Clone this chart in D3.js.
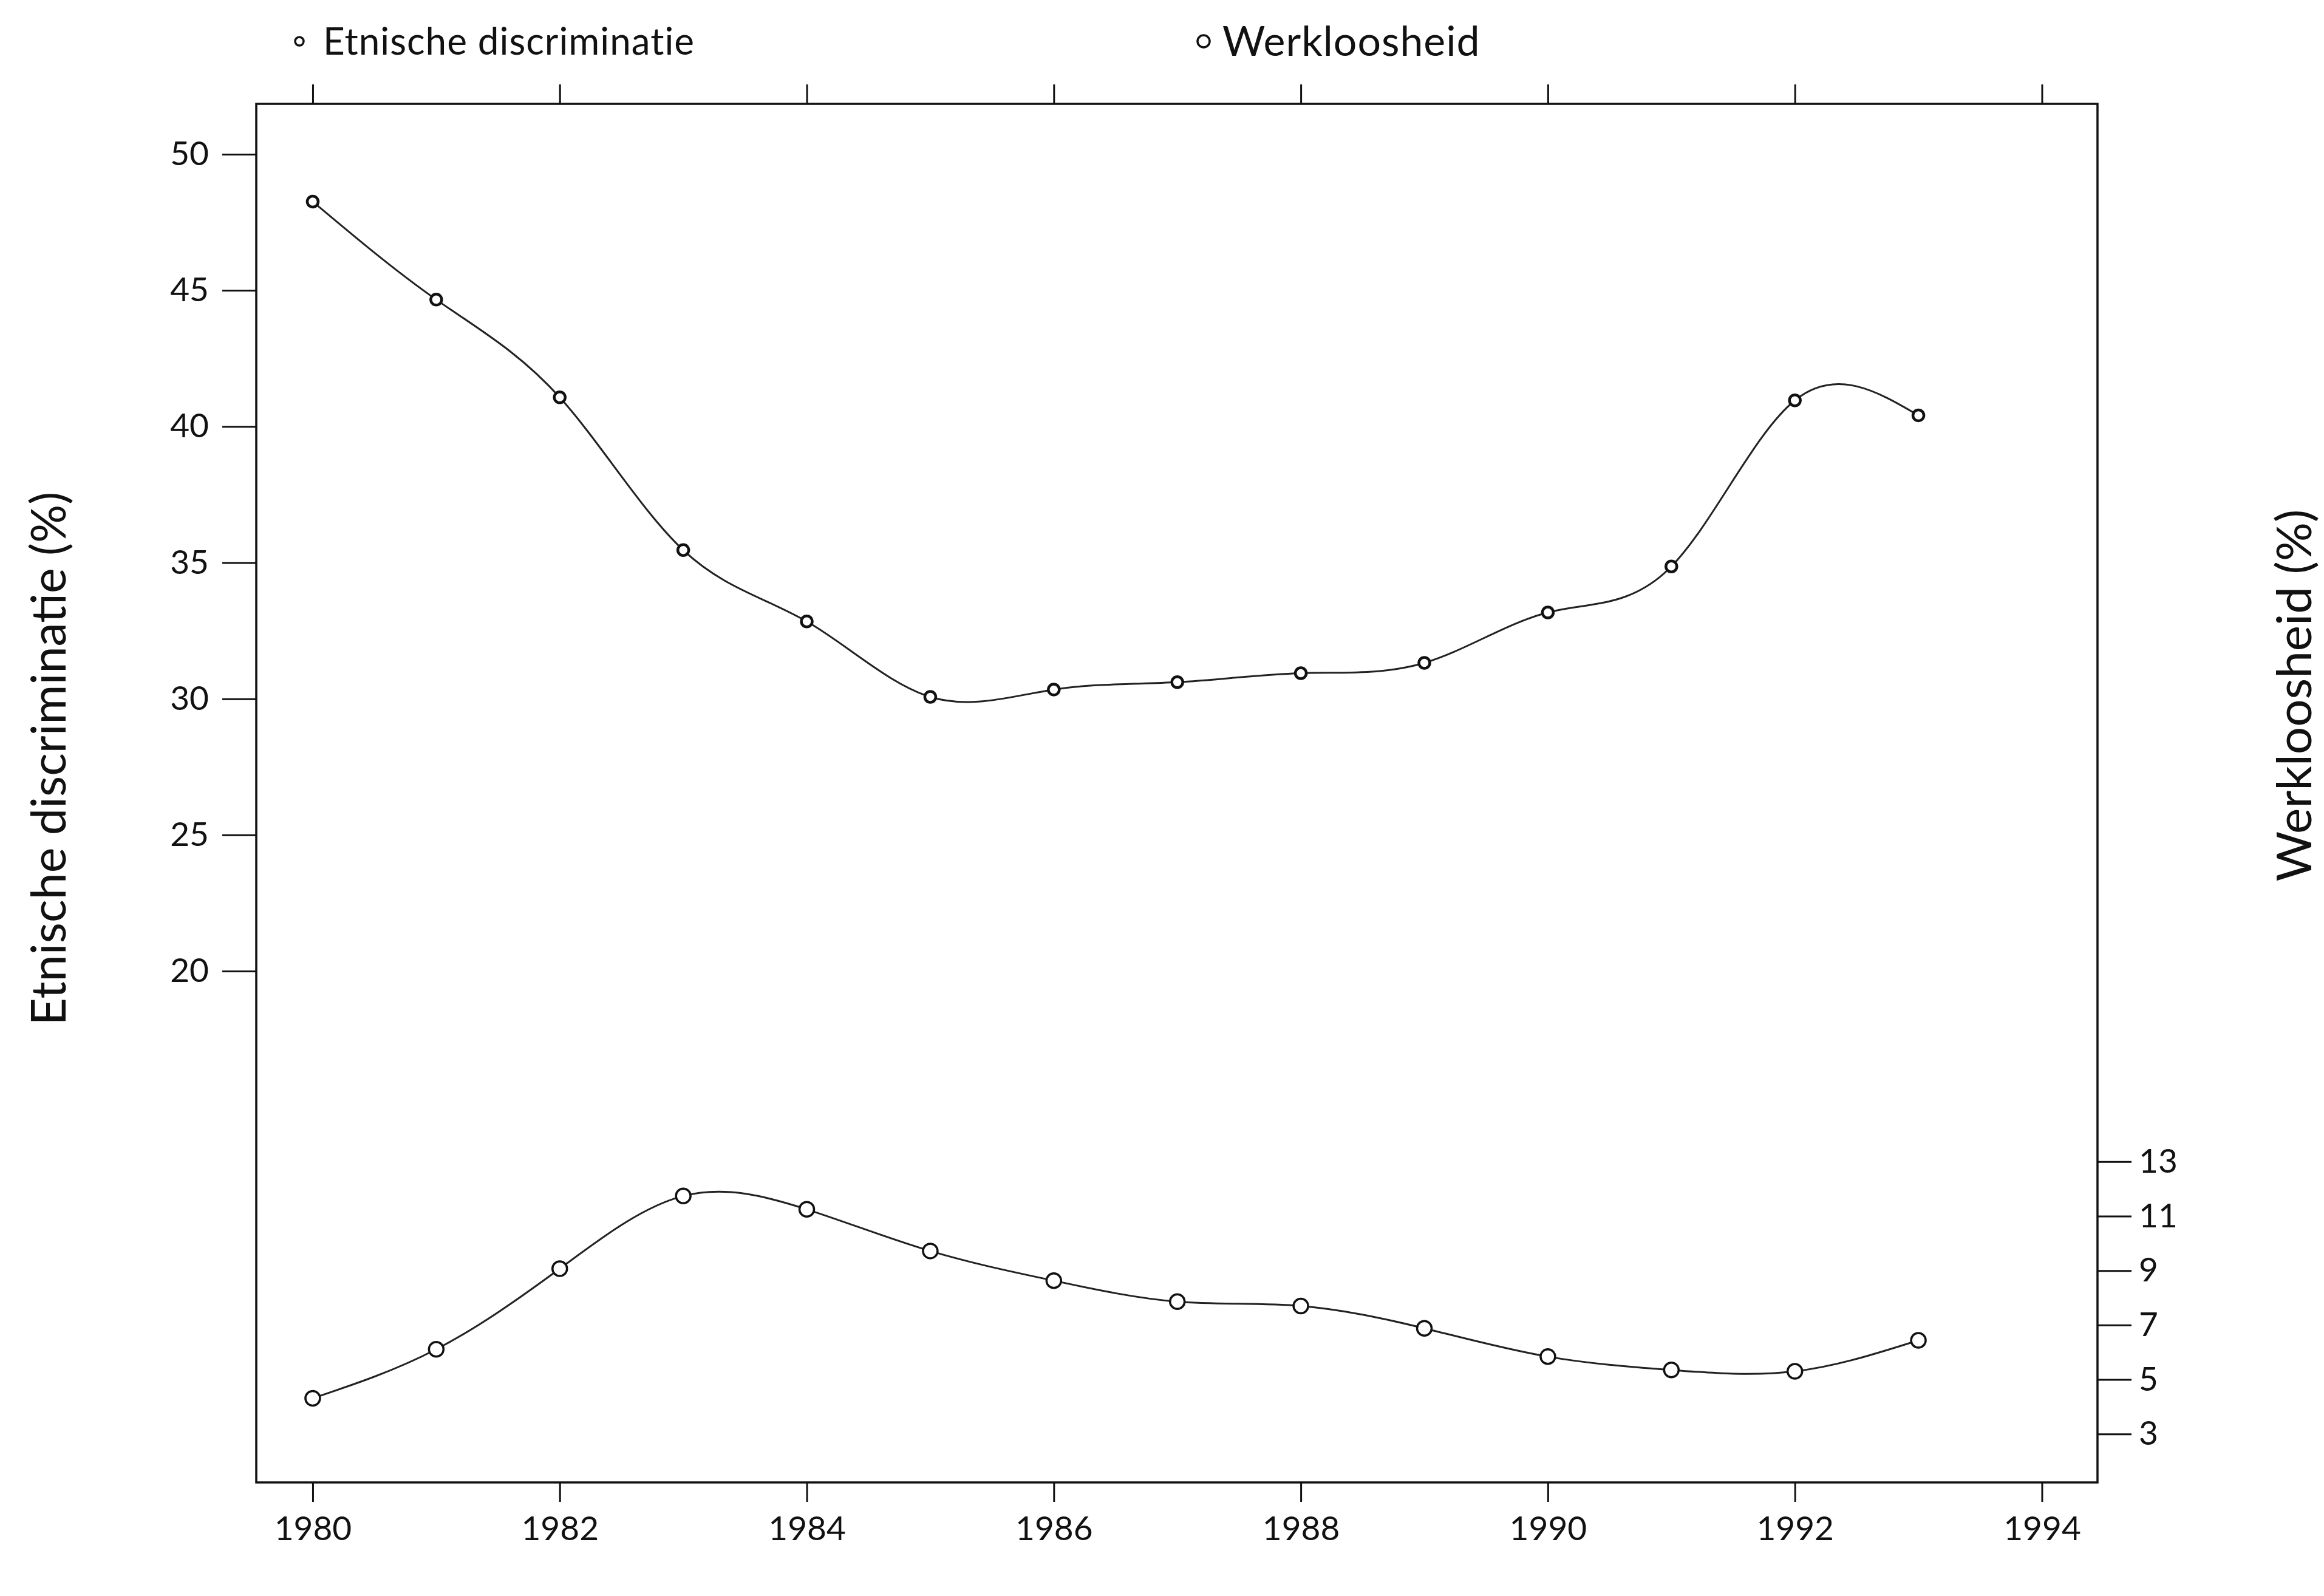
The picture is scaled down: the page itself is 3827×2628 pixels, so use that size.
<!DOCTYPE html>
<html>
<head>
<meta charset="utf-8">
<script src="https://cdn.jsdelivr.net/npm/d3@7"></script>
<style>
  body { margin: 0; background: #fff; }
  svg text { font-family: Lato, "Open Sans", sans-serif; fill: #111; }
</style>
</head>
<body>
<div id="chart"></div>
<script>
// Data
const years = [1980, 1981, 1982, 1983, 1984, 1985, 1986, 1987, 1988, 1989, 1990, 1991, 1992, 1993];
const discriminatie = [48.26, 44.66, 41.07, 35.46, 32.84, 30.07, 30.34, 30.61, 30.94, 31.32, 33.17, 34.86, 40.96, 40.41];
const werkloosheid = [4.31, 6.11, 9.07, 11.74, 11.25, 9.72, 8.63, 7.86, 7.70, 6.88, 5.84, 5.35, 5.30, 6.44];
const xTicks = [1980, 1982, 1984, 1986, 1988, 1990, 1992, 1994];
const leftTicks = [20, 25, 30, 35, 40, 45, 50];
const rightTicks = [3, 5, 7, 9, 11, 13];
const seriesNames = ["Etnische discriminatie", "Werkloosheid"];

// Dimensions
const W = 3827, H = 2628;
const margin = { top: 171, right: 373, bottom: 187, left: 422 };
const width = W - margin.left - margin.right;
const height = H - margin.top - margin.bottom;

const svg = d3.select("#chart")
    .append("svg")
    .attr("width", W)
    .attr("height", H);

const g = svg.append("g")
    .attr("transform", `translate(${margin.left},${margin.top})`);

// Scales (both y axes share the same scale, just different ticks)
const x = d3.scaleLinear()
    .domain([1979.543, 1994.45])
    .range([0, width]);

const y = d3.scaleLinear()
    .domain([1.22, 51.85])
    .range([height, 0]);

const tickFont = 55;

// Bottom axis
g.append("g")
    .attr("transform", `translate(0,${height})`)
    .call(d3.axisBottom(x).tickValues(xTicks).tickFormat(d3.format("d")).tickSize(32).tickPadding(24));

// Top axis (ticks only)
g.append("g")
    .call(d3.axisTop(x).tickValues(xTicks).tickFormat("").tickSize(32));

// Left axis
g.append("g")
    .call(d3.axisLeft(y).tickValues(leftTicks).tickSize(56).tickPadding(22));

// Right axis
g.append("g")
    .attr("transform", `translate(${width},0)`)
    .call(d3.axisRight(y).tickValues(rightTicks).tickSize(56).tickPadding(12));

g.selectAll(".domain").remove();
g.selectAll(".tick line").attr("stroke", "#111").attr("stroke-width", 3);
g.selectAll(".tick text").style("font-size", tickFont + "px").attr("fill", "#111");

// Frame
g.append("rect")
    .attr("width", width)
    .attr("height", height)
    .attr("fill", "none")
    .attr("stroke", "#111")
    .attr("stroke-width", 3.5);

// Lines
const line = (vals) => d3.line()
    .x((d, i) => x(years[i]))
    .y(d => y(d))
    .curve(d3.curveNatural)(vals);

g.append("path")
    .attr("d", line(discriminatie))
    .attr("fill", "none")
    .attr("stroke", "#222")
    .attr("stroke-width", 3);

g.append("path")
    .attr("d", line(werkloosheid))
    .attr("fill", "none")
    .attr("stroke", "#222")
    .attr("stroke-width", 3);

// Markers
g.selectAll(".pt-ed")
    .data(discriminatie)
    .enter()
    .append("circle")
    .attr("class", "pt-ed")
    .attr("cx", (d, i) => x(years[i]))
    .attr("cy", d => y(d))
    .attr("r", 9)
    .attr("fill", "#fff")
    .attr("stroke", "#111")
    .attr("stroke-width", 4.5);

g.selectAll(".pt-wk")
    .data(werkloosheid)
    .enter()
    .append("circle")
    .attr("class", "pt-wk")
    .attr("cx", (d, i) => x(years[i]))
    .attr("cy", d => y(d))
    .attr("r", 12)
    .attr("fill", "#fff")
    .attr("stroke", "#111")
    .attr("stroke-width", 3.5);

// Legend
const legendItems = [
    { name: seriesNames[0], cx: 493, tx: 532, r: 7, size: 62 },
    { name: seriesNames[1], cx: 1982, tx: 2013, r: 10, size: 68 }
];
legendItems.forEach(item => {
    svg.append("circle")
        .attr("cx", item.cx)
        .attr("cy", 68)
        .attr("r", item.r)
        .attr("fill", "#fff")
        .attr("stroke", "#111")
        .attr("stroke-width", 3.5);
    svg.append("text")
        .attr("x", item.tx)
        .attr("y", 68)
        .attr("dy", "0.35em")
        .style("font-size", item.size + "px")
        .style("letter-spacing", "1px")
        .text(item.name);
});

// Axis titles
svg.append("text")
    .attr("transform", "translate(80,1249) rotate(-90)")
    .attr("dy", "0.35em")
    .style("text-anchor", "middle")
    .style("font-size", "79px")
    .text("Etnische discriminatie (%)");

svg.append("text")
    .attr("transform", "translate(3778,1145) rotate(-90)")
    .attr("dy", "0.35em")
    .style("text-anchor", "middle")
    .style("font-size", "80px")
    .text("Werkloosheid (%)");
</script>
</body>
</html>
